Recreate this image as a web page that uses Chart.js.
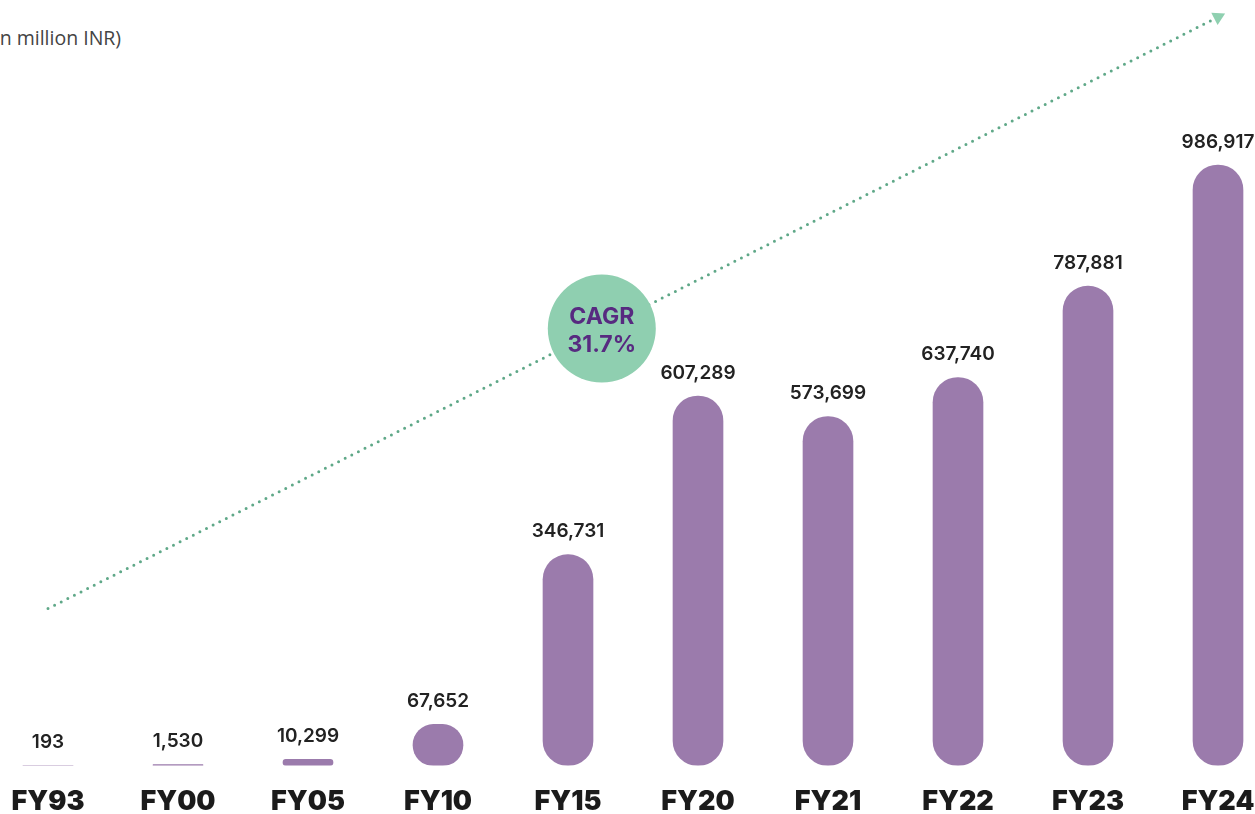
<!DOCTYPE html>
<html>
<head>
<meta charset="utf-8">
<script src="https://cdn.jsdelivr.net/npm/chart.js@4"></script>
<style>
  html, body { margin: 0; padding: 0; background: #fff; overflow: hidden; }
  body { width: 1255px; height: 814px; position: relative; }
  #unit { position: absolute; left: -11px; top: 24px; font: 400 19.5px "Open Sans", sans-serif; color: #444; white-space: nowrap; }
  #wrap { position: absolute; left: -17px; top: 0; width: 1300px; height: 830px; }
</style>
</head>
<body>
<div id="unit">(in million INR)</div>
<div id="wrap"><canvas id="depositChart"></canvas></div>
<script>
// data
const years = ['FY93', 'FY00', 'FY05', 'FY10', 'FY15', 'FY20', 'FY21', 'FY22', 'FY23', 'FY24'];
const deposits = [193, 1530, 10299, 67652, 346731, 607289, 573699, 637740, 787881, 986917];
const trendStart = 258000;   // dotted arrow, left end (at FY93)
const trendEnd = 1230000;    // dotted arrow, right end (at FY24)
const cagrText = ['CAGR', '31.7%'];
const cagrAt = 4.26;         // category position of the bubble

document.addEventListener("DOMContentLoaded", () => {
    const trend = years.map((y, i) => i === 0 ? trendStart : (i === years.length - 1 ? trendEnd : null));

    const labelPlugin = {
        id: 'labels',
        afterDatasetsDraw(chart) {
            const ctx = chart.ctx;
            const meta = chart.getDatasetMeta(0);
            ctx.save();
            ctx.font = '600 19px Inter, sans-serif';
            ctx.fillStyle = '#222';
            ctx.textAlign = 'center';
            ctx.textBaseline = 'middle';
            meta.data.forEach((bar, i) => {
                ctx.fillText(deposits[i].toLocaleString('en-US'), bar.x, bar.y - 23);
            });

            // CAGR bubble sitting on the trend line
            const xs = chart.scales.x, ys = chart.scales.y;
            const t = cagrAt / (years.length - 1);
            const cx = xs.getPixelForValue(cagrAt);
            const cy = ys.getPixelForValue(trendStart + (trendEnd - trendStart) * t);
            ctx.beginPath();
            ctx.arc(cx, cy, 54, 0, Math.PI * 2);
            ctx.fillStyle = '#8fcfb0';
            ctx.fill();
            ctx.fillStyle = '#572a80';
            ctx.font = '700 23px Inter, sans-serif';
            ctx.fillText(cagrText[0], cx, cy - 12);
            ctx.fillText(cagrText[1], cx, cy + 16);
            ctx.restore();
        }
    };

    const ctx = document.getElementById('depositChart').getContext('2d');
    new Chart(ctx, {
        data: {
            labels: years,
            datasets: [
                {
                    type: 'bar',
                    data: deposits,
                    backgroundColor: '#9b7bac',
                    barThickness: 50,
                    borderRadius: 25,
                    borderSkipped: false,
                    order: 2,
                },
                {
                    type: 'line',
                    data: trend,
                    spanGaps: true,
                    borderColor: '#5fa888',
                    borderWidth: 3,
                    borderDash: [0, 7.4],
                    borderCapStyle: 'round',
                    pointStyle: 'triangle',
                    pointRadius: trend.map((v, i) => i === years.length - 1 ? 8 : 0),
                    pointRotation: 63,
                    pointBackgroundColor: '#8fd0b0',
                    pointBorderWidth: 0,
                    clip: false,
                    order: 1,
                },
            ],
        },
        options: {
            responsive: true,
            maintainAspectRatio: false,
            animation: false,
            layout: { padding: 0, autoPadding: false },
            plugins: {
                legend: { display: false },
                tooltip: { enabled: false },
            },
            scales: {
                x: {
                    grid: { display: false },
                    border: { display: false },
                    ticks: {
                        color: '#1b1b1b',
                        font: { family: 'Inter', size: 27, weight: '900' },
                        padding: 12,
                    },
                },
                y: {
                    display: false,
                    min: 0,
                    max: 1258000,
                },
            },
        },
        plugins: [labelPlugin],
    });
});
</script>
</body>
</html>
